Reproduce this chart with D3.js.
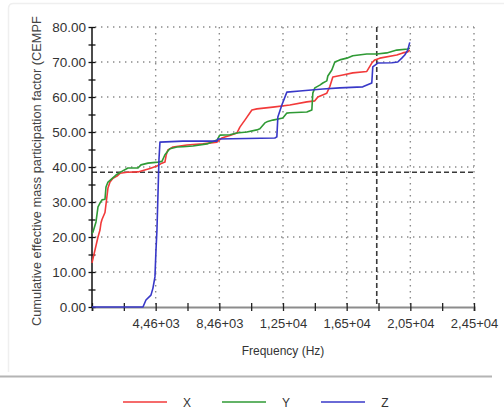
<!DOCTYPE html>
<html>
<head>
<meta charset="utf-8">
<script src="https://cdn.jsdelivr.net/npm/d3@7"></script>
<style>
  html, body { margin: 0; padding: 0; background: #fff; }
  svg { display: block; font-family: "Liberation Sans", Arial, sans-serif; }
</style>
</head>
<body>
<svg id="chart" width="504" height="412"></svg>
<script>
// ---------------- DATA ----------------
const seriesNames = ["X", "Y", "Z"];
const seriesColors = ["#f23a3a", "#2f9a35", "#3838c8"];

// [frequency (Hz), cumulative effective mass participation factor]
const seriesX = [
  [460, 12.6], [837, 20], [962, 22], [1025, 24], [1088, 25], [1276, 27],
  [1464, 34], [1590, 35.7], [1778, 36.8], [2030, 37.4], [2218, 38.2],
  [2657, 38.5], [3348, 38.6], [4101, 39.6], [4541, 40.3], [4855, 41.1],
  [5043, 41.4], [5120, 43.4], [5231, 44.9], [5545, 45.7], [6424, 46.3],
  [7429, 46.6], [8308, 47.1], [8621, 48.3], [8810, 48.6], [9124, 49.0],
  [9563, 49.7], [9751, 51.4], [9940, 52.6], [10065, 53.4], [10505, 56.3],
  [10819, 56.6], [11823, 57.1], [12890, 57.7], [13958, 58.6], [14460, 58.9],
  [14648, 60.0], [15213, 61.1], [15402, 63.0], [15590, 65.7], [16218, 66.3],
  [16846, 66.9], [17725, 67.3], [18038, 69.7], [18227, 70.6], [18541, 71.1],
  [19608, 72.0], [19985, 72.6], [20298, 72.9], [20424, 73.4]
];
const seriesY = [
  [460, 21], [523, 21.4], [711, 24.3], [837, 28.6], [962, 29.7], [1088, 30.6],
  [1276, 30.8], [1339, 34.3], [1464, 35.7], [1967, 37.7], [2281, 38.6],
  [2720, 39.7], [3348, 39.7], [3536, 40.6], [3976, 41.1], [4604, 41.4],
  [4855, 41.6], [5043, 43.5], [5231, 44.6], [5357, 45.2], [5796, 45.7],
  [6173, 45.8], [6801, 46.0], [7680, 46.6], [8308, 47.7], [8496, 49.1],
  [9124, 49.2], [9563, 49.7], [10191, 50.0], [10819, 50.6], [11007, 50.9],
  [11321, 52.6], [11447, 52.9], [11823, 53.4], [12451, 54.0], [12702, 55.4],
  [12890, 55.5], [13958, 55.7], [14272, 56.3], [14334, 61.1], [14460, 62.6],
  [14774, 63.4], [14962, 64.0], [15213, 64.6], [15276, 66.0], [15527, 67.7],
  [15716, 70.0], [16029, 70.6], [16469, 71.1], [16846, 71.8], [17725, 72.3],
  [18352, 72.3], [18980, 72.6], [19608, 73.4], [20298, 73.7], [20424, 74.0]
];
const seriesZ = [
  [460, 0], [3662, 0], [3850, 2], [4164, 3.4], [4290, 5.4], [4415, 8.6],
  [4478, 16], [4541, 22], [4604, 32], [4666, 42], [4729, 47.1], [6173, 47.4],
  [8308, 47.4], [8370, 48.0], [11949, 48.3], [12074, 48.6], [12137, 54.3],
  [12388, 57.7], [12702, 61.4], [13518, 61.7], [14962, 62.3], [16029, 62.6],
  [17473, 62.9], [18038, 64.0], [18101, 68.6], [18415, 69.7], [19294, 69.8],
  [19671, 70.0], [19922, 71.1], [20110, 72.0], [20298, 73.4], [20424, 75.6]
];

const xDomain = [460, 24460];
const yDomain = [0, 80];
const xMinorTicks = [460, 2460, 4460, 6460, 8460, 10460, 12460, 14460, 16460, 18460, 20460, 22460, 24460];
const xMajorTicks = [4460, 8460, 12460, 16460, 20460, 24460];
const xTickLabels = ["4,46+03", "8,46+03", "1,25+04", "1,65+04", "2,05+04", "2,45+04"];
const yMinorTicks = [0, 5, 10, 15, 20, 25, 30, 35, 40, 45, 50, 55, 60, 65, 70, 75, 80];
const yMajorTicks = [0, 10, 20, 30, 40, 50, 60, 70, 80];
const crosshair = { freq: 18350, value: 38.5 };

const xTitle = "Frequency (Hz)";
const yTitle = "Cumulative effective mass participation factor (CEMPF";

// ---------------- DRAW ----------------
const svg = d3.select("#chart");
const x = d3.scaleLinear().domain(xDomain).range([92, 474]);
const y = d3.scaleLinear().domain(yDomain).range([307, 27]);

// faint panel frame (top and left edges only)
svg.append("path").attr("d", "M8.5,372V8.5Q8.5,3.5 13.5,3.5H504")
  .attr("fill", "none").attr("stroke", "#efefef").attr("stroke-width", 1.5);

// grid
const grid = svg.append("g").attr("stroke", "#8a8a8a").attr("stroke-width", 1.4)
  .attr("stroke-dasharray", "1.4,4.6");
grid.selectAll("line.h").data(yMajorTicks.filter(d => d > 0)).join("line")
  .attr("class", "h")
  .attr("x1", x(xDomain[0]) + 3).attr("x2", x(xDomain[1]))
  .attr("y1", d => y(d)).attr("y2", d => y(d));
grid.selectAll("line.v").data(xMajorTicks).join("line")
  .attr("class", "v")
  .attr("x1", d => x(d)).attr("x2", d => x(d))
  .attr("y1", y(yDomain[1])).attr("y2", y(0) - 2);

// crosshair
svg.append("line")
  .attr("x1", x(xDomain[0])).attr("x2", x(xDomain[1]))
  .attr("y1", y(crosshair.value)).attr("y2", y(crosshair.value))
  .attr("stroke", "#3a3a3a").attr("stroke-width", 1.6).attr("stroke-dasharray", "5,3");
svg.append("line")
  .attr("x1", x(crosshair.freq)).attr("x2", x(crosshair.freq))
  .attr("y1", y(yDomain[1])).attr("y2", y(0))
  .attr("stroke", "#3a3a3a").attr("stroke-width", 1.6).attr("stroke-dasharray", "5,3");

// x axis
const xAxisG = svg.append("g").attr("transform", `translate(0,${y(0)})`)
  .call(d3.axisBottom(x).tickValues(xMinorTicks).tickSize(4).tickFormat(""));
xAxisG.select(".domain").attr("stroke", "#8c8c8c").attr("stroke-width", 2.2);
xAxisG.selectAll(".tick line").attr("y1", -4).attr("y2", 4).attr("stroke", "#222").attr("stroke-width", 1.3);
const xLab = svg.append("g").attr("transform", `translate(0,${y(0)})`)
  .call(d3.axisBottom(x).tickValues(xMajorTicks).tickSize(0).tickPadding(12)
    .tickFormat((d, i) => xTickLabels[i]));
xLab.select(".domain").remove();
xLab.selectAll("text").attr("font-size", 13).attr("fill", "#333")
  .attr("font-family", "'Liberation Sans', Arial, sans-serif");

// y axis
const yAxisG = svg.append("g").attr("transform", `translate(${x(xDomain[0])},0)`)
  .call(d3.axisLeft(y).tickValues(yMinorTicks).tickSize(4).tickFormat(""));
yAxisG.select(".domain").attr("stroke", "#111").attr("stroke-width", 1.5).attr("d", `M0,${y(80)}V${y(0)}`);
yAxisG.selectAll(".tick line").attr("x1", -3.5).attr("x2", 3.5).attr("stroke", "#111").attr("stroke-width", 1.3);
const yLab = svg.append("g").attr("transform", `translate(${x(xDomain[0])},0)`)
  .call(d3.axisLeft(y).tickValues(yMajorTicks).tickSize(0).tickPadding(6).tickFormat(d3.format(".2f")));
yLab.select(".domain").remove();
yLab.selectAll("text").attr("font-size", 13.5).attr("fill", "#333")
  .attr("font-family", "'Liberation Sans', Arial, sans-serif");

// titles
svg.append("text").attr("x", 283).attr("y", 355).attr("text-anchor", "middle")
  .attr("font-size", 12).attr("fill", "#333").text(xTitle);
svg.append("text").attr("transform", "translate(41,326) rotate(-90)")
  .attr("text-anchor", "start").attr("font-size", 12.8).attr("fill", "#444").text(yTitle);

// lines
const line = d3.line().x(d => x(d[0])).y(d => y(d[1]));
const allSeries = [seriesX, seriesY, seriesZ];
svg.append("g").selectAll("path").data(allSeries).join("path")
  .attr("d", d => line(d)).attr("fill", "none")
  .attr("stroke", (d, i) => seriesColors[i]).attr("stroke-width", 1.6)
  .attr("stroke-linejoin", "round");

// separator
svg.append("line").attr("x1", 0).attr("x2", 492).attr("y1", 376.5).attr("y2", 376.5)
  .attr("stroke", "#b4b4b4").attr("stroke-width", 2);

// legend
const legendX = [123, 222, 321];
const lg = svg.append("g").selectAll("g").data(seriesNames).join("g")
  .attr("transform", (d, i) => `translate(${legendX[i]},402)`);
lg.append("line").attr("x1", 0).attr("x2", 44).attr("y1", 0).attr("y2", 0)
  .attr("stroke", (d, i) => seriesColors[i]).attr("stroke-width", 1.6);
lg.append("text").attr("x", 64).attr("y", 4.5).attr("text-anchor", "middle")
  .attr("font-size", 12).attr("fill", "#333").text(d => d);
</script>
</body>
</html>
